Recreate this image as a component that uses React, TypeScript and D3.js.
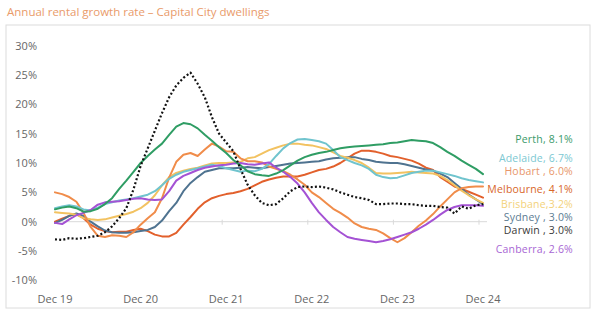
import React from "react";
import * as d3 from "d3";

const xTickLabels = ["Dec 19", "Dec 20", "Dec 21", "Dec 22", "Dec 23", "Dec 24"];
const yTicks = [-10, -5, 0, 5, 10, 15, 20, 25, 30];

const perth = [2.1,2.4,2.6,2.3,1.7,1.8,2.2,3.0,4.0,5.6,7.0,8.5,10.0,11.2,12.3,13.3,14.8,16.2,16.8,16.6,15.9,14.8,13.8,12.7,11.7,10.5,9.6,8.6,8.1,7.9,7.8,8.2,8.8,9.6,10.4,11.0,11.4,11.7,11.9,12.2,12.5,12.7,12.8,12.9,13.0,13.1,13.2,13.4,13.5,13.7,13.9,13.8,13.7,13.4,12.7,11.9,11.2,10.4,9.7,9.0,8.1];
const adelaide = [2.3,2.6,2.8,2.6,2.1,1.9,2.4,3.0,3.3,3.6,3.8,4.0,4.3,4.6,5.2,6.2,7.3,8.0,8.5,8.8,9.1,9.4,9.7,9.5,9.1,8.8,8.5,8.7,8.6,9.0,9.8,11.2,12.5,13.4,14.0,14.1,13.9,13.7,13.3,12.2,11.0,10.5,10.0,9.6,9.0,8.0,7.6,7.4,7.5,7.9,8.3,8.5,8.7,8.7,8.4,8.1,7.8,7.4,7.1,6.9,6.7];
const hobart = [5.0,4.7,4.2,3.4,1.5,-0.9,-2.4,-2.6,-2.3,-2.4,-2.6,-1.8,-0.5,0.6,1.6,4.0,7.5,10.2,11.4,11.7,11.2,12.3,13.3,12.8,12.0,11.9,10.8,10.3,10.3,10.1,9.4,9.0,8.6,8.0,7.2,6.3,5.0,4.2,3.2,2.2,1.5,0.7,-0.3,-0.9,-1.2,-1.4,-2.0,-2.8,-3.5,-2.8,-1.8,-0.7,0.2,1.3,2.6,3.8,5.0,5.7,5.9,6.0,6.0];
const melbourne = [0.0,0.5,1.0,1.3,0.6,-0.5,-1.2,-1.6,-1.8,-1.7,-1.7,-1.4,-1.2,-1.6,-2.2,-2.5,-2.5,-1.9,-0.5,0.8,2.2,3.3,4.0,4.4,4.7,4.9,5.2,5.6,6.2,6.8,7.2,7.5,7.7,7.7,7.7,8.0,8.4,8.8,9.0,9.4,10.0,10.8,11.6,12.1,12.1,11.9,11.6,11.2,11.0,10.7,10.4,9.9,9.2,8.8,7.6,6.8,6.0,5.6,5.1,4.6,4.1];
const brisbane = [1.6,1.5,1.4,1.2,0.6,0.4,0.3,0.4,0.7,1.0,1.3,1.7,2.3,3.2,4.5,6.2,7.6,8.3,8.7,9.0,9.2,9.6,9.9,10.0,10.0,10.1,10.2,10.8,11.0,11.6,12.2,12.6,13.0,13.3,13.3,13.1,13.0,12.7,12.4,11.8,11.2,10.9,10.5,10.0,9.2,8.3,8.2,8.2,8.3,8.4,8.5,8.4,8.3,8.2,7.8,7.1,6.2,5.3,4.5,3.8,3.2];
const sydney = [-0.2,0.3,1.0,1.4,1.0,0.0,-0.8,-1.5,-1.8,-1.9,-1.9,-1.8,-1.6,-1.4,-0.9,0.2,1.8,3.2,5.2,6.6,7.6,8.5,8.8,9.1,9.1,9.1,9.2,9.3,9.2,9.1,9.3,9.5,9.7,9.9,10.0,10.1,10.2,10.3,10.6,10.8,10.9,11.0,11.0,10.7,10.5,10.2,10.1,10.0,10.0,9.8,9.5,9.2,8.9,8.7,8.2,7.6,6.6,5.6,4.6,3.8,3.0];
const darwin = [-3.0,-3.1,-2.8,-2.9,-2.8,-2.6,-2.4,-1.8,-0.8,0.6,2.3,5.5,9.5,12.5,15.5,18.5,21.2,23.2,24.5,25.4,23.5,21.2,17.8,15.0,13.5,12.0,9.0,6.3,4.5,3.2,2.8,3.0,4.0,5.2,5.9,6.0,5.9,6.0,5.8,5.5,5.0,4.6,4.2,4.0,3.7,3.0,3.0,3.1,3.1,3.0,3.0,2.8,2.7,2.7,2.5,2.4,1.4,2.6,2.2,2.8,3.0];
const canberra = [-0.2,-0.4,0.4,1.1,1.5,2.0,2.9,3.3,3.4,3.5,3.7,3.9,4.0,3.8,3.7,3.8,5.2,7.0,7.8,8.3,8.8,9.2,9.4,9.6,9.7,9.9,10.0,9.8,9.7,9.9,10.1,9.2,8.5,7.6,6.5,5.0,3.2,1.6,0.3,-0.9,-1.8,-2.6,-2.9,-3.1,-3.3,-3.5,-3.3,-3.0,-2.6,-2.2,-1.8,-1.2,-0.5,0.3,1.2,2.0,2.5,2.8,2.8,2.8,2.7];

const seriesNames = ["Melbourne", "Sydney", "Brisbane", "Hobart", "Adelaide", "Canberra", "Perth", "Darwin"];
const seriesValues = [melbourne, sydney, brisbane, hobart, adelaide, canberra, perth, darwin];
const seriesColors = ["#e2602c", "#4f7390", "#f2c261", "#f08c4a", "#70c4ce", "#a452d4", "#2f9d64", "#111111"];

const labelTexts = ["Perth, 8.1%", "Adelaide, 6.7%", "Hobart , 6.0%", "Melbourne, 4.1%", "Brisbane,3.2%", "Sydney , 3.0%", "Darwin , 3.0%", "Canberra, 2.6%"];
const labelColors = ["#3a9a6a", "#7cc8d2", "#e8966a", "#d8662a", "#f3d27a", "#5b7b92", "#3a3a3a", "#a866d4"];
const labelY = [139.5, 158, 171, 189, 204, 217, 230, 249];

export default function App() {
  const W = 600, H = 324;
  const x = d3.scaleLinear().domain([0, 60]).range([55, 483]);
  const y = d3.scaleLinear().domain([-10, 30]).range([280.4, 45.6]);
  const line = d3.line<number>().x((_, i) => x(i)).y((d) => y(d));
  const font = "'Open Sans', sans-serif";
  return (
    <svg width={W} height={H} style={{ position: "absolute", left: 0, top: 0, background: "#fff" }}>
      <text x={7} y={16} fontFamily={font} fontSize={11.5} fill="#e99b6a">Annual rental growth rate – Capital City dwellings</text>
      <rect x={6} y={25} width={584} height={283} fill="#fff" stroke="#dcdcdc" strokeWidth={1} />
      {yTicks.map((t) => (
        <text key={t} x={37} y={y(t) + 4} textAnchor="end" fontFamily={font} fontSize={11} fill="#666">{t}%</text>
      ))}
      {xTickLabels.map((l, i) => (
        <text key={l} x={x(i * 12)} y={303} textAnchor="middle" fontFamily={font} fontSize={11} fill="#666">{l}</text>
      ))}
      <line x1={x(0)} x2={x(60) + 4} y1={y(0)} y2={y(0)} stroke="#d9d9d9" strokeWidth={1} />
      {xTickLabels.map((l, i) => i > 1 ? (
        <line key={"t" + l} x1={x(i * 12) - 4} x2={x(i * 12) - 4} y1={y(0) - 2} y2={y(0) + 3} stroke="#d9d9d9" strokeWidth={1} />
      ) : null)}
      {seriesValues.map((vals, k) => (
        <path key={seriesNames[k]} d={line(vals) || ""} fill="none" stroke={seriesColors[k]}
          strokeWidth={seriesNames[k] === "Darwin" ? 2.2 : 2}
          strokeLinecap={seriesNames[k] === "Darwin" ? "butt" : "round"} strokeLinejoin="round"
          strokeDasharray={seriesNames[k] === "Darwin" ? "2 2.2" : undefined} />
      ))}
      {labelTexts.map((t, i) => (
        <text key={t} x={573} y={labelY[i] + 3.5} textAnchor="end" fontFamily={font} fontSize={10.5} letterSpacing={0.2} fill={labelColors[i]}>{t}</text>
      ))}
    </svg>
  );
}
